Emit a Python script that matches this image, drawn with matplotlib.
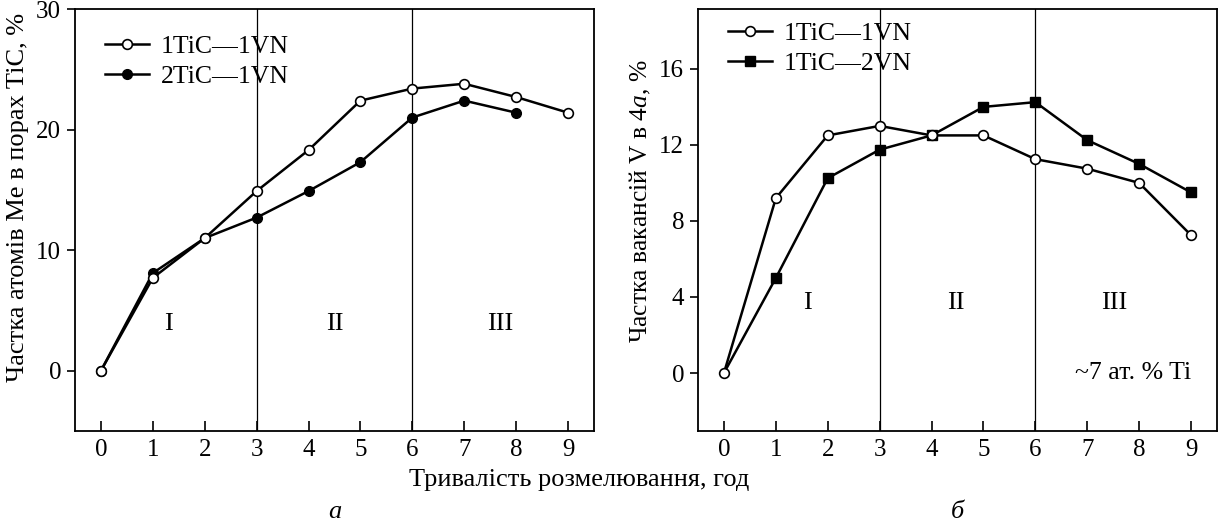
import matplotlib
matplotlib.use("Agg")
import matplotlib.pyplot as plt

plt.rcParams["font.family"] = ["Liberation Serif", "DejaVu Serif"]
plt.rcParams["mathtext.fontset"] = "custom"
plt.rcParams["mathtext.rm"] = "Liberation Serif"
plt.rcParams["mathtext.it"] = "Liberation Serif:italic"

# data, panel a
hours = [0, 1, 2, 3, 4, 5, 6, 7, 8, 9]
a_1tic_1vn = [0, 7.7, 11.0, 14.9, 18.3, 22.4, 23.4, 23.8, 22.7, 21.4]
a_hours_2 = [0, 1, 2, 3, 4, 5, 6, 7, 8]
a_2tic_1vn = [0, 8.1, 11.0, 12.7, 14.9, 17.3, 21.0, 22.4, 21.4]

# data, panel b
b_1tic_1vn = [0, 9.2, 12.5, 13.0, 12.5, 12.5, 11.25, 10.75, 10.0, 7.25]
b_hours_2 = [1, 2, 3, 4, 5, 6, 7, 8, 9]
b_1tic_2vn = [5.0, 10.25, 11.75, 12.5, 14.0, 14.25, 12.25, 11.0, 9.5]

stages = ["I", "II", "III"]

W, H = 1218, 523
fs_tick = 18
fs_lab = 19
fs_leg = 18.5
fig = plt.figure(figsize=(W / 100, H / 100), dpi=100)
ax1 = fig.add_axes([75 / W, 1 - 431 / H, 519 / W, 422 / H])
ax2 = fig.add_axes([698 / W, 1 - 431 / H, 519 / W, 422 / H])

lw = 1.8
ax1.plot(a_hours_2, a_2tic_1vn, color="black", lw=lw, marker="o", ms=7,
         mfc="black", mec="black", label="2TiC\u20141VN", zorder=3)
ax1.plot(hours, a_1tic_1vn, color="black", lw=lw, marker="o", ms=7,
         mfc="white", mec="black", mew=1.2, label="1TiC\u20141VN", zorder=4)

ax2.plot([0] + b_hours_2, [0] + b_1tic_2vn, color="black", lw=lw, marker="s", ms=7,
         mfc="black", mec="black", markevery=list(range(1, 10)),
         label="1TiC\u20142VN", zorder=3)
ax2.plot(hours, b_1tic_1vn, color="black", lw=lw, marker="o", ms=7,
         mfc="white", mec="black", mew=1.2, label="1TiC\u20141VN", zorder=4)

for ax in (ax1, ax2):
    ax.set_xlim(-0.5, 9.5)
    ax.set_xticks(hours)
    for xv in (3, 6):
        ax.axvline(xv, color="black", lw=0.9, zorder=1)
    for s in ax.spines.values():
        s.set_linewidth(1.3)
    ax.tick_params(axis="x", direction="in", length=7, width=1.2,
                   labelsize=fs_tick, pad=6)
    ax.tick_params(axis="y", direction="out", length=6, width=1.2,
                   labelsize=fs_tick, pad=4)

h, l = ax1.get_legend_handles_labels()
ax1.legend(h[::-1], l[::-1], loc="upper left", frameon=False, fontsize=fs_leg,
           handlelength=1.7, borderaxespad=0, labelspacing=0.25,
           handletextpad=0.45, bbox_to_anchor=(20 / 519, 1 - 16 / 422))
h, l = ax2.get_legend_handles_labels()
ax2.legend(h[::-1], l[::-1], loc="upper left", frameon=False, fontsize=fs_leg,
           handlelength=1.7, borderaxespad=0, labelspacing=0.25,
           handletextpad=0.45, bbox_to_anchor=(20 / 519, 1 - 3 / 422))

ax1.set_ylim(-5, 30)
ax1.set_yticks([0, 10, 20, 30])
ax1.set_ylabel("Частка атомів Me в порах TiC, %", fontsize=fs_lab)
ax1.yaxis.set_label_coords(-46 / 519, (431 - 197) / 422)
for s, x in zip(stages, [1.3, 4.5, 7.7]):
    ax1.text(x, 3.9, s, ha="center", va="center", fontsize=fs_lab)

ax2.set_ylim(-3.05, 19.15)
ax2.set_yticks([0, 4, 8, 12, 16])
ax2.set_ylabel("Частка вакансій V в 4$\\mathit{a}$, %", fontsize=18.4)
ax2.yaxis.set_label_coords(-45 / 519, (431 - 201) / 422)
for s, x in zip(stages, [1.6, 4.47, 7.52]):
    ax2.text(x, 3.7, s, ha="center", va="center", fontsize=fs_lab)
ax2.text(9.0, 0, "~7 ат. % Ti", ha="right", va="center", fontsize=fs_leg)

fig.text(579 / W, 1 - 480 / H, "Тривалість розмелювання, год", ha="center",
         va="center", fontsize=fs_lab)
fig.text(335 / W, 1 - 512 / H, "а", ha="center", va="center",
         fontsize=fs_lab, style="italic")
fig.text(957 / W, 1 - 512 / H, "б", ha="center", va="center",
         fontsize=fs_lab, style="italic")

fig.savefig("out.png", dpi=100)
